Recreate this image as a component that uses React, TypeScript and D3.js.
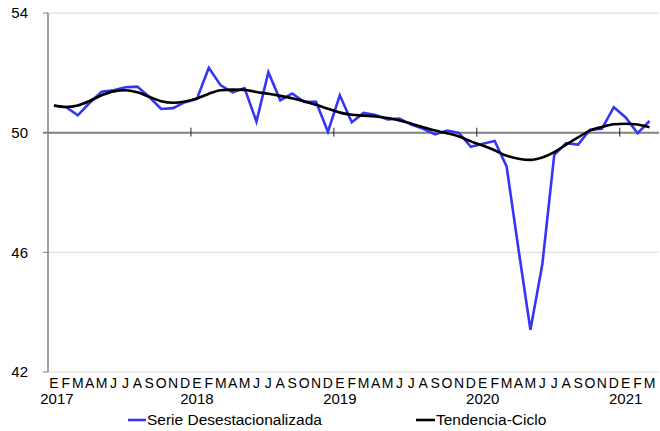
import React from "react";
import * as d3 from "d3";

const monthLetters = ["E", "F", "M", "A", "M", "J", "J", "A", "S", "O", "N", "D"];
const years = ["2017", "2018", "2019", "2020", "2021"];
const yTicks = [42, 46, 50, 54];

const serie = [
  50.91, 50.86, 50.58, 51.0, 51.37, 51.42, 51.52, 51.54, 51.19, 50.79, 50.82, 51.02,
  51.13, 52.17, 51.58, 51.35, 51.49, 50.37, 52.02, 51.08, 51.31, 51.03, 51.03, 50.03,
  51.25, 50.35, 50.66, 50.59, 50.44, 50.47, 50.27, 50.13, 49.94, 50.07, 49.99, 49.53,
  49.63, 49.72, 48.87, 46.1, 43.41, 45.6, 49.26, 49.65, 49.6, 50.1, 50.13, 50.85,
  50.51, 49.98, 50.39,
];

const tendencia = [
  50.91, 50.86, 50.91, 51.06, 51.25, 51.38, 51.42, 51.35, 51.2, 51.05, 51.0, 51.04,
  51.14, 51.3, 51.42, 51.44, 51.43, 51.36, 51.3, 51.23, 51.15, 51.05, 50.93, 50.8,
  50.67, 50.6, 50.57, 50.54, 50.49, 50.41, 50.3, 50.18, 50.07, 49.98, 49.87, 49.71,
  49.57, 49.41, 49.23, 49.13, 49.09, 49.17, 49.35, 49.6, 49.84, 50.07, 50.19, 50.28,
  50.3, 50.27, 50.18,
];

const W = 660;
const H = 431;
const FONT = "'Liberation Sans', Arial, sans-serif";

export default function App() {
  const idx = d3.range(serie.length);
  const x = d3.scaleBand<number>().domain(idx).range([48, 655.5]).padding(0);
  const cx = (i: number) => (x(i) as number) + x.bandwidth() / 2;
  const y = d3.scaleLinear().domain([42, 54]).range([372, 13]);

  const lineStraight = d3
    .line<number>()
    .x((_, i) => cx(i))
    .y((d) => y(d));
  const lineSmooth = d3
    .line<number>()
    .x((_, i) => cx(i))
    .y((d) => y(d))
    .curve(d3.curveMonotoneX);

  const yearBoundaries = d3.range(1, years.length).map((k) => x(k * 12) as number);

  return (
    <svg
      width={W}
      height={H}
      style={{ position: "absolute", left: 0, top: 0, background: "#fff" }}
      fontFamily={FONT}
    >
      {/* gridlines */}
      {yTicks
        .filter((t) => t !== 50)
        .map((t) => (
          <line key={t} x1={48} x2={659} y1={y(t)} y2={y(t)} stroke="#d9d9d9" strokeWidth={1} />
        ))}
      {/* y axis */}
      <line x1={48} x2={48} y1={y(54)} y2={y(42)} stroke="#808080" strokeWidth={1.5} />
      {yTicks.map((t) => (
        <g key={t}>
          <line x1={43} x2={48} y1={y(t)} y2={y(t)} stroke="#808080" strokeWidth={1} />
          <text x={28} y={y(t)} dy="0.36em" textAnchor="end" fontSize={15} fill="#000">
            {t}
          </text>
        </g>
      ))}
      {/* 50 baseline (category axis) */}
      <line x1={43} x2={659} y1={y(50)} y2={y(50)} stroke="#808080" strokeWidth={2} />
      {yearBoundaries.map((bx, k) => (
        <line key={k} x1={bx} x2={bx} y1={y(50) - 5} y2={y(50) + 4} stroke="#222" strokeWidth={1} />
      ))}
      {/* series */}
      <path d={lineStraight(serie) || ""} fill="none" stroke="#3535f5" strokeWidth={2.6} strokeLinejoin="miter" />
      <path d={lineSmooth(tendencia) || ""} fill="none" stroke="#000" strokeWidth={2.6} />
      {/* month labels */}
      {idx.map((i) => (
        <text key={i} x={cx(i)} y={388} textAnchor="middle" fontSize={14} fill="#000">
          {monthLetters[i % 12]}
        </text>
      ))}
      {years.map((yr, k) => (
        <text key={yr} x={cx(k * 12) + (k === 0 ? 3 : 0)} y={404} textAnchor="middle" fontSize={15} fill="#000">
          {yr}
        </text>
      ))}
      {/* legend */}
      <line x1={128} x2={146} y1={420} y2={420} stroke="#3535f5" strokeWidth={2.6} />
      <text x={147} y={425} fontSize={15.5} fill="#000">
        Serie Desestacionalizada
      </text>
      <line x1={416} x2={435} y1={420} y2={420} stroke="#000" strokeWidth={2.6} />
      <text x={436} y={425} fontSize={15.5} fill="#000">
        Tendencia-Ciclo
      </text>
    </svg>
  );
}
